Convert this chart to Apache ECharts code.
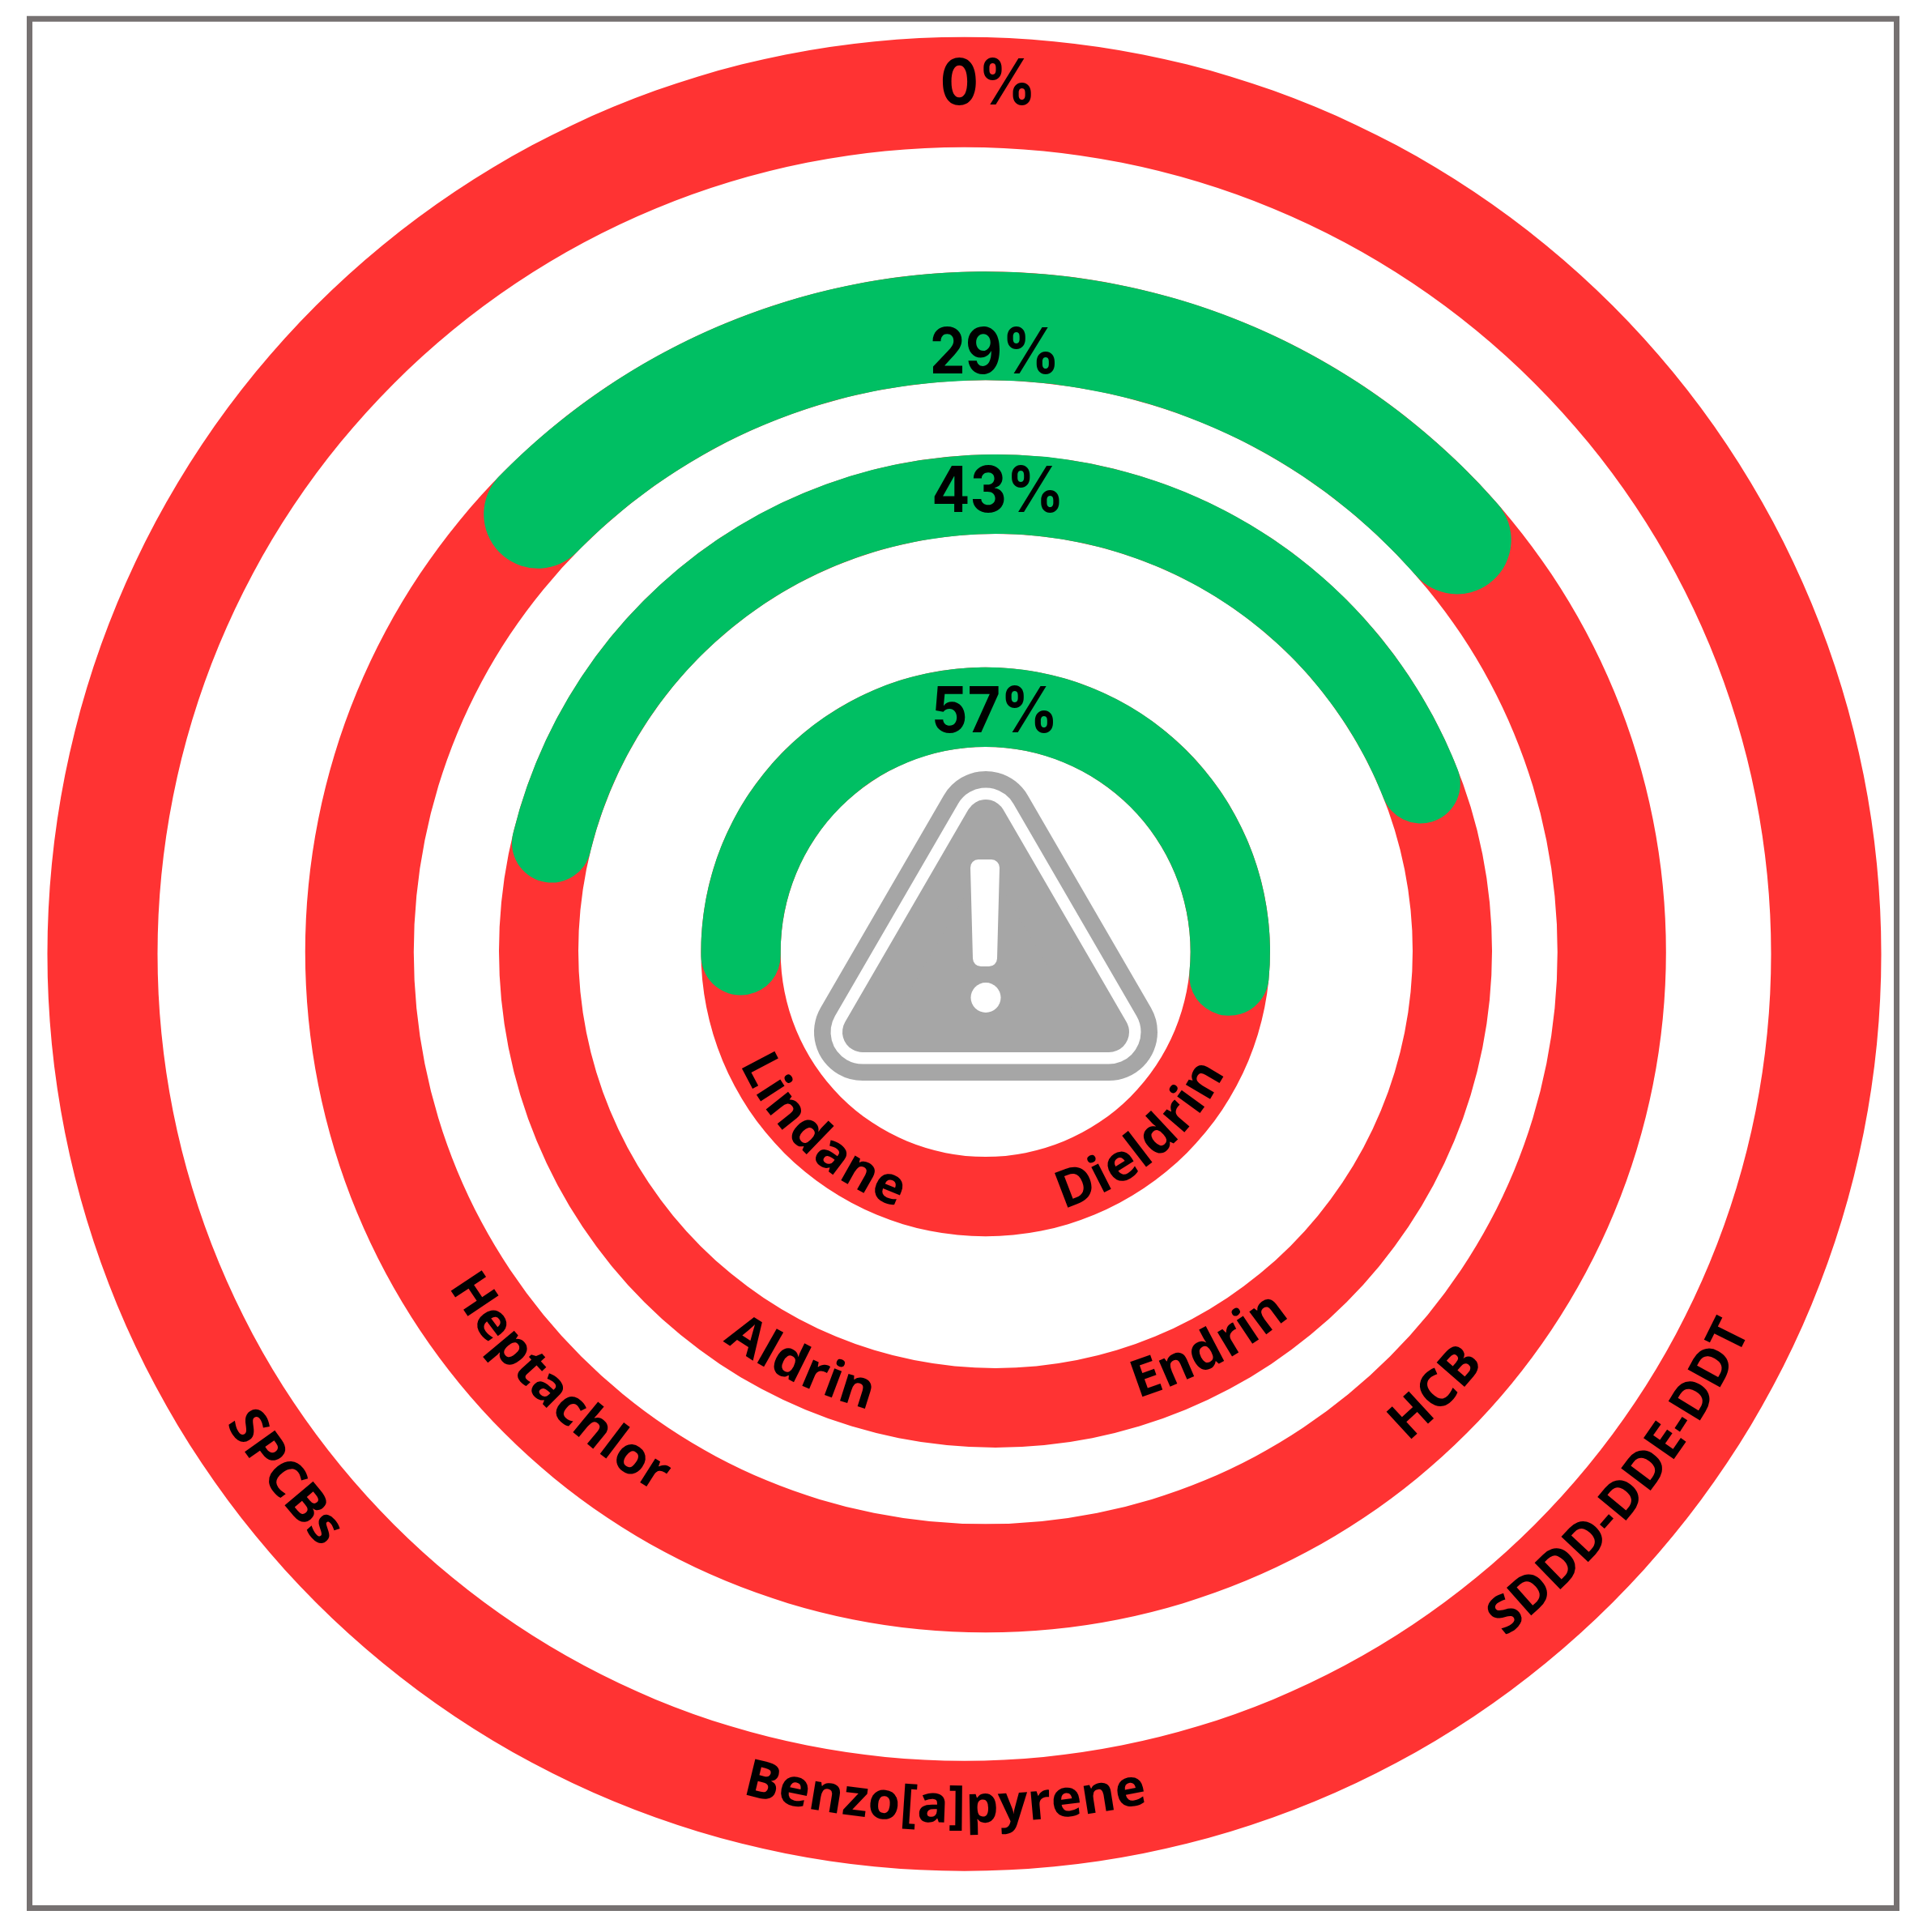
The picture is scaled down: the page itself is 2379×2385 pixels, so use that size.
<!DOCTYPE html>
<html lang="en">
<head>
<meta charset="UTF-8">
<title>Pollutant rings</title>
<script src="https://cdn.jsdelivr.net/npm/echarts@6/dist/echarts.min.js"></script>
<style>
html, body { margin: 0; padding: 0; background: #fff; }
#chart { width: 2379px; height: 2385px; }
</style>
</head>
<body>
<div id="chart"></div>
<script>
// data, outer ring first
var percents = [0, 29, 43, 57];
var percentLabels = ['0%', '29%', '43%', '57%'];
var leftNames = ['SPCBs', 'Heptachlor', 'Aldrin', 'Lindane'];
var rightNames = ['SDDD-DDE-DDT', 'HCB', 'Endrin', 'Dieldrin'];
var extraName = 'Benzo[a]pyrene';

// layout
var RED = '#ff3333', GREEN = '#00bf63', GREY = '#a6a6a6';
var rings = [
    { cx: 1190.5, cy: 1177.7, R: 1132, r: 996, start: 90 },
    { cx: 1216.8, cy: 1175.3, R: 840, r: 706, start: 140.6 },
    { cx: 1229, cy: 1174, R: 613, r: 515, start: 171.3 },
    { cx: 1216.7, cy: 1175, R: 351.3, r: 253, start: 190.2 }
];
var percentPos = [[1220, 105], [1228, 437], [1232, 608], [1228, 880]];
// degrees from straight down, + to the right, and radius of the text
var leftPos = [[-52.4, 1062], [-44.7, 763], [-25.2, 569], [-42.2, 315]];
var rightPos = [[51.4, 1057], [45.6, 780], [28.3, 561], [40, 313]];
var extraPos = [-1.3, 1054];

var NAME_FONT = '700 64px "Open Sans"';
var PCT_FONT = '700 70px Inter';

var measure = document.createElement('canvas').getContext('2d');

// one text element per letter, so that the word follows the ring
function arcText(word, ring, angle, radius) {
    measure.font = NAME_FONT;
    var total = measure.measureText(word).width;
    var pos = -total / 2;
    var els = [];
    word.split('').forEach(function (ch) {
        var w = measure.measureText(ch).width;
        var a = (angle * Math.PI / 180) + (pos + w / 2) / radius;
        els.push({
            type: 'text',
            x: ring.cx + radius * Math.sin(a),
            y: ring.cy + radius * Math.cos(a),
            rotation: a,
            z: 10,
            silent: true,
            style: { text: ch, fill: '#000', font: NAME_FONT, textAlign: 'center', textVerticalAlign: 'middle' }
        });
        pos += w;
    });
    return els;
}

var series = [];
rings.forEach(function (ring, i) {
    series.push({
        type: 'pie', silent: true, animation: false, z: 2,
        center: [ring.cx, ring.cy], radius: [ring.r, ring.R],
        label: { show: false }, labelLine: { show: false },
        itemStyle: { color: RED },
        data: [100]
    });
    series.push({
        type: 'pie', silent: true, animation: false, z: 3,
        center: [ring.cx, ring.cy], radius: [ring.r, ring.R],
        startAngle: ring.start, clockwise: true,
        label: { show: false }, labelLine: { show: false },
        data: [
            { value: percents[i], itemStyle: { color: GREEN, borderRadius: (ring.R - ring.r) / 2 } },
            { value: 100 - percents[i], itemStyle: { color: 'rgba(0,0,0,0)' } }
        ]
    });
});

var core = [[1217, 1012], [1065, 1274], [1369, 1274]];
var bang = [[1208, 1071], [1224, 1071], [1221, 1183], [1211, 1183]];
var graphics = [
    { type: 'rect', shape: { x: 36.5, y: 23.2, width: 2305, height: 2332.3 }, style: { fill: null, stroke: '#767171', lineWidth: 7 }, z: 1 },
    { type: 'polygon', shape: { points: core }, style: { fill: GREY, stroke: GREY, lineWidth: 120, lineJoin: 'round' }, z: 5 },
    { type: 'polygon', shape: { points: core }, style: { fill: '#fff', stroke: '#fff', lineWidth: 79, lineJoin: 'round' }, z: 6 },
    { type: 'polygon', shape: { points: core }, style: { fill: GREY, stroke: GREY, lineWidth: 50, lineJoin: 'round' }, z: 7 },
    { type: 'polygon', shape: { points: bang }, style: { fill: '#fff', stroke: '#fff', lineWidth: 20, lineJoin: 'round' }, z: 8 },
    { type: 'circle', shape: { cx: 1217, cy: 1231.5, r: 18.5 }, style: { fill: '#fff' }, z: 8 }
];

percentLabels.forEach(function (txt, i) {
    graphics.push({
        type: 'text', x: percentPos[i][0], y: percentPos[i][1], scaleY: 1.12, z: 10, silent: true,
        style: { text: txt, fill: '#000', font: PCT_FONT, textAlign: 'center', textVerticalAlign: 'middle' }
    });
});
rings.forEach(function (ring, i) {
    graphics = graphics.concat(arcText(leftNames[i], ring, leftPos[i][0], leftPos[i][1]));
    graphics = graphics.concat(arcText(rightNames[i], ring, rightPos[i][0], rightPos[i][1]));
});
graphics = graphics.concat(arcText(extraName, rings[0], extraPos[0], extraPos[1]));

var myChart = echarts.init(document.getElementById('chart'), null, { renderer: 'canvas' });
myChart.setOption({
    backgroundColor: '#fff',
    animation: false,
    series: series,
    graphic: { elements: graphics }
});
</script>
</body>
</html>
